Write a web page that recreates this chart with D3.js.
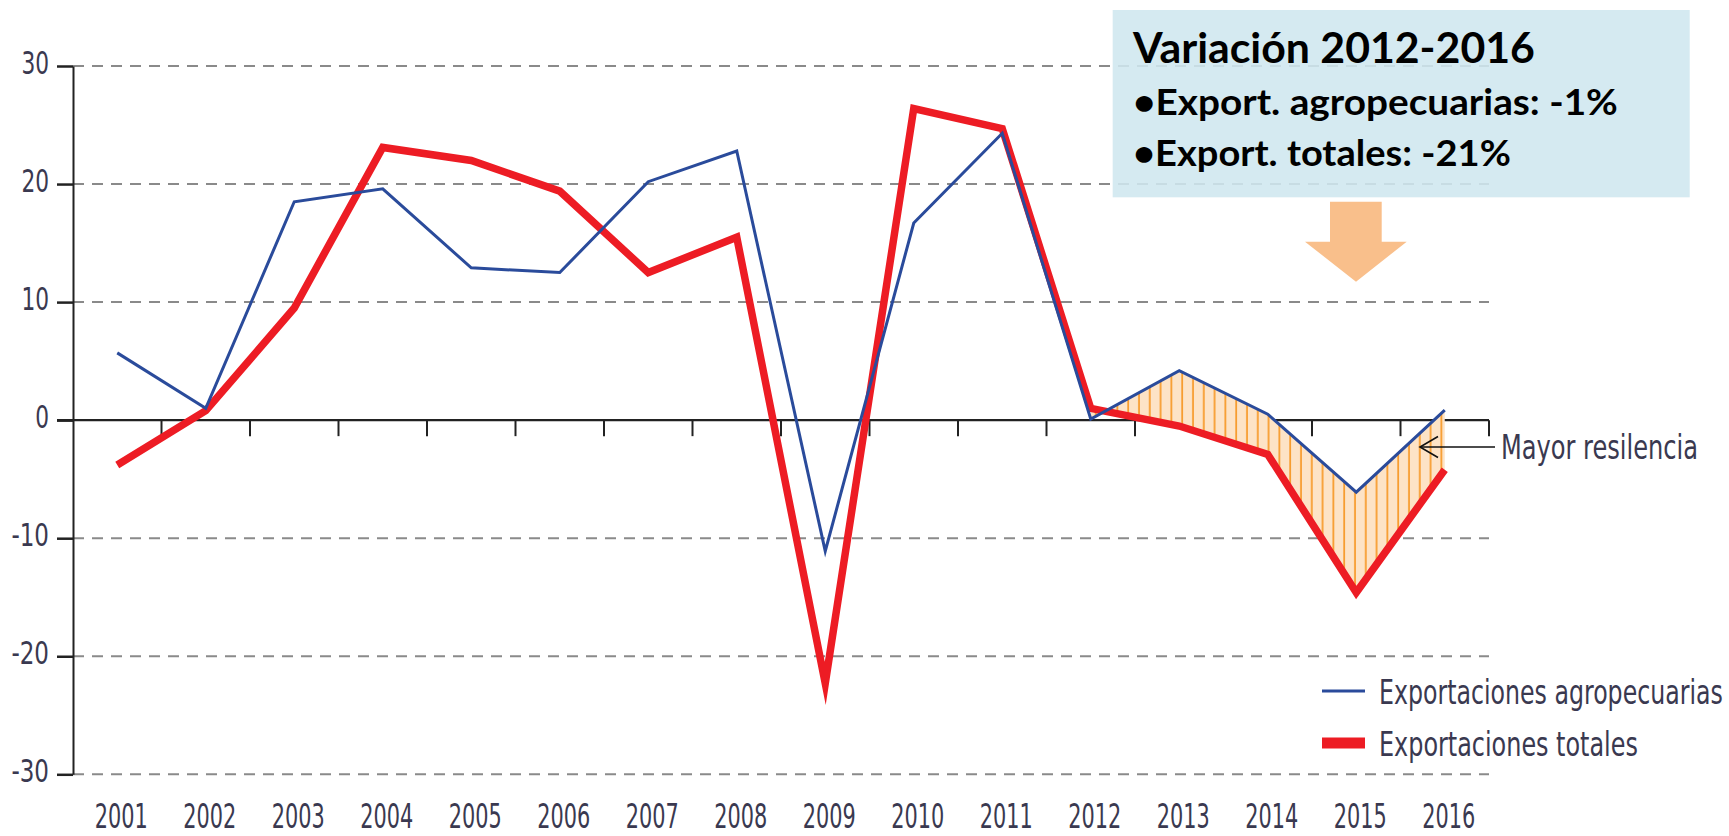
<!DOCTYPE html>
<html>
<head>
<meta charset="utf-8">
<script src="https://cdn.jsdelivr.net/npm/d3@7"></script>
<style>
  body { margin: 0; background: #fff; }
  svg { display: block; }
  .cond { font-family: "Liberation Sans Narrow", "DejaVu Sans Condensed", "Roboto", sans-serif; fill: #3a3950; }
  .box { font-family: "Lato", "Open Sans", sans-serif; font-weight: bold; fill: #000; }
</style>
</head>
<body>
<div id="chart"></div>
<script>
const years = ["2001","2002","2003","2004","2005","2006","2007","2008","2009","2010","2011","2012","2013","2014","2015","2016"];
const agro = [5.7, 1.0, 18.5, 19.6, 12.9, 12.5, 20.2, 22.8, -11.1, 16.7, 24.3, 0.1, 4.2, 0.5, -6.1, 0.85];
const totales = [-3.8, 0.8, 9.5, 23.1, 22.0, 19.4, 12.5, 15.5, -22.3, 26.4, 24.7, 1.0, -0.5, -2.9, -14.6, -4.2];
const yTicks = [-30, -20, -10, 0, 10, 20, 30];
const shadeYears = ["2012","2013","2014","2015","2016"];
const legendItems = ["Exportaciones agropecuarias", "Exportaciones totales"];
const boxTitle = "Variación 2012-2016";
const boxLines = ["•Export. agropecuarias: -1%", "•Export. totales: -21%"];

const width = 1729, height = 836;
const svg = d3.select("#chart").append("svg").attr("width", width).attr("height", height);

// squeeze a text horizontally to a target width (the fonts here are wider than the original's)
function fit(sel, w) {
  sel.each(function(d, i) {
    const t = d3.select(this);
    const tx = +t.attr("x") || 0, ty = +t.attr("y") || 0;
    const target = typeof w === "function" ? w(d, i) : w;
    const k = target / this.getComputedTextLength();
    t.attr("x", 0).attr("y", 0).attr("transform", `translate(${tx},${ty}) scale(${k},1)`);
  });
}

const x = d3.scaleBand().domain(years).range([73, 1489]);
const cx = d => x(d) + x.bandwidth() / 2;
const y = d3.scaleLinear().domain([-30, 30]).range([774.3, 66]);

// hatch pattern for the 2012-2016 gap
const defs = svg.append("defs");
const pat = defs.append("pattern").attr("id", "hatch").attr("patternUnits", "userSpaceOnUse")
  .attr("width", 10.8).attr("height", 20);
pat.append("rect").attr("width", 10.8).attr("height", 20).attr("fill", "#fde3c6");
pat.append("line").attr("x1", 5).attr("x2", 5).attr("y1", 0).attr("y2", 20)
  .attr("stroke", "#f7941d").attr("stroke-width", 1.6);

// gridlines
svg.append("g").selectAll("line").data(yTicks.filter(d => d !== 0)).join("line")
  .attr("x1", 73).attr("x2", 1489).attr("y1", d => y(d)).attr("y2", d => y(d))
  .attr("stroke", "#8a8a8a").attr("stroke-width", 2).attr("stroke-dasharray", "11,8");

// y axis
const yAxis = svg.append("g").attr("transform", "translate(73,0)")
  .call(d3.axisLeft(y).tickValues(yTicks).tickSize(16).tickPadding(8).tickSizeOuter(0)
    .tickFormat(d => String(d)));
yAxis.select(".domain").attr("stroke", "#222").attr("stroke-width", 2);
yAxis.selectAll(".tick line").attr("stroke", "#222").attr("stroke-width", 2.5);
yAxis.selectAll(".tick text").attr("class", "cond").attr("font-size", 32)
  .attr("dy", null).attr("y", 7).attr("x", -24)
  .call(fit, d => String(d).replace("-", "").length * 13.8 + (d < 0 ? 10 : 0));

// zero line with ticks
const zero = svg.append("g");
zero.append("line").attr("x1", 57).attr("x2", 1489).attr("y1", y(0)).attr("y2", y(0))
  .attr("stroke", "#222").attr("stroke-width", 2.2);
zero.selectAll("line.tk").data(years).join("line").attr("class", "tk")
  .attr("x1", d => x(d) + x.bandwidth()).attr("x2", d => x(d) + x.bandwidth())
  .attr("y1", y(0)).attr("y2", y(0) + 16).attr("stroke", "#222").attr("stroke-width", 2);

// x labels
svg.append("g").selectAll("text").data(years).join("text").attr("class", "cond")
  .attr("x", d => cx(d) + 4).attr("y", 828).attr("text-anchor", "middle")
  .attr("font-size", 33).text(d => d)
  .call(fit, 53);

// shaded gap
const idx = shadeYears.map(d => years.indexOf(d));
const area = d3.area().x(i => cx(years[i])).y0(i => y(totales[i])).y1(i => y(agro[i]));
svg.append("path").datum(idx).attr("d", area).attr("fill", "url(#hatch)");

// lines
const line = vals => d3.line().x((d, i) => cx(years[i])).y(d => y(d))(vals);
svg.append("path").attr("d", line(totales)).attr("fill", "none")
  .attr("stroke", "#ed1c24").attr("stroke-width", 7.5).attr("stroke-miterlimit", 20);
svg.append("path").attr("d", line(agro)).attr("fill", "none")
  .attr("stroke", "#2a4b9b").attr("stroke-width", 3).attr("stroke-miterlimit", 20);

// "Mayor resilencia" annotation
const ann = svg.append("g");
ann.append("line").attr("x1", 1420).attr("x2", 1495).attr("y1", 447).attr("y2", 447)
  .attr("stroke", "#111").attr("stroke-width", 1.6);
ann.append("path").attr("d", "M1438,436.5 L1420,447 L1438,457.5").attr("fill", "none")
  .attr("stroke", "#111").attr("stroke-width", 1.6);
ann.append("text").attr("class", "cond").attr("x", 1501).attr("y", 459)
  .attr("font-size", 33).text("Mayor resilencia")
  .call(fit, 197);

// legend
const legend = svg.append("g");
const lgY = [691, 743];
const lgW = [3, 11];
const lgC = ["#2a4b9b", "#ed1c24"];
const lgLen = [344, 259];
legendItems.forEach((t, i) => {
  legend.append("line").attr("x1", 1322).attr("x2", 1365).attr("y1", lgY[i]).attr("y2", lgY[i])
    .attr("stroke", lgC[i]).attr("stroke-width", lgW[i]);
  legend.append("text").attr("class", "cond").attr("x", 1379).attr("y", lgY[i] + 13)
    .attr("font-size", 34).text(t)
    .call(fit, lgLen[i]);
});

// summary box
const box = svg.append("g");
box.append("rect").attr("x", 1112.7).attr("y", 10).attr("width", 577).attr("height", 187.3)
  .attr("fill", "#cfe7ef").attr("fill-opacity", 0.88);
box.append("text").attr("class", "box").attr("x", 1133).attr("y", 63.3).attr("font-size", 42)
  .text(boxTitle).call(fit, 402);
const boxLen = [485, 378];
const boxY = [115, 165.7];
boxLines.forEach((t, i) => {
  box.append("text").attr("class", "box").attr("x", 1133).attr("y", boxY[i]).attr("font-size", 36)
    .text(t).call(fit, boxLen[i]);
});

// down arrow
svg.append("path")
  .attr("d", "M1330,201.7 L1381.7,201.7 L1381.7,241.7 L1406.7,241.7 L1356,281.7 L1305,241.7 L1330,241.7 Z")
  .attr("fill", "#f9bf8b");
</script>
</body>
</html>
